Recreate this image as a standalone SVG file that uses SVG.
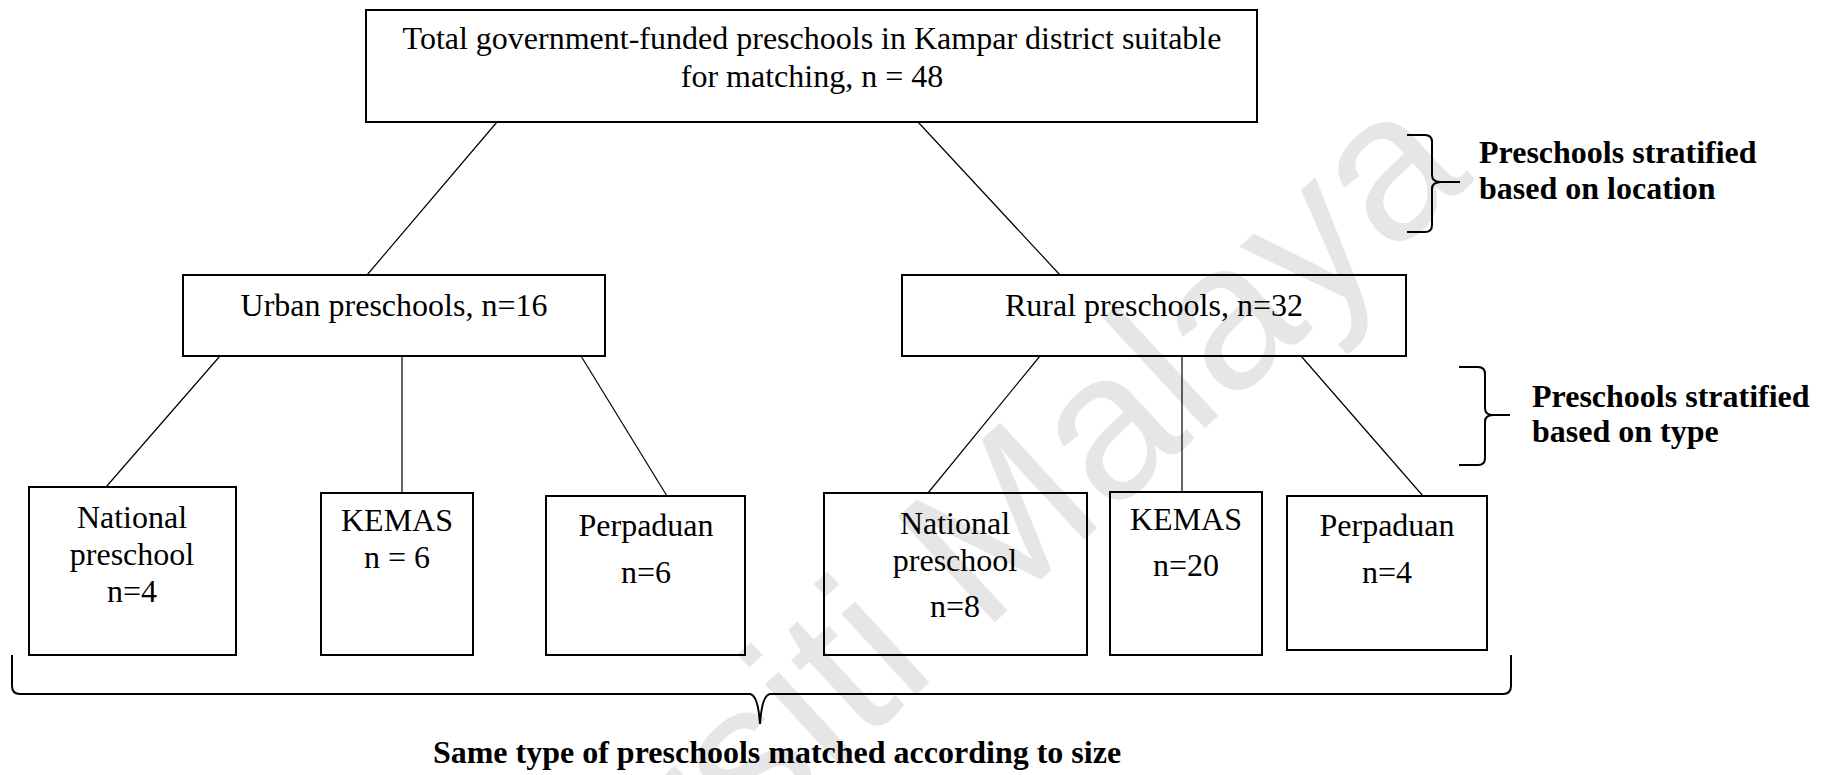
<svg xmlns="http://www.w3.org/2000/svg" width="1825" height="775" viewBox="0 0 1825 775">
  <style>
    .box { fill: none; stroke: #000; stroke-width: 2; }
    .link { stroke: #000; stroke-width: 1.2; fill: none; }
    .brace { stroke: #000; stroke-width: 2; fill: none; }
    .t { font-family: "Liberation Serif", "Times New Roman", serif; font-size: 32px; fill: #000; text-anchor: middle; }
    .b { font-family: "Liberation Serif", "Times New Roman", serif; font-size: 32px; font-weight: bold; fill: #000; }
    .wm { font-family: "Liberation Sans", Arial, sans-serif; font-size: 208px; fill: #e6e6e6; text-anchor: end; }
  </style>
  <rect width="1825" height="775" fill="#fff"/>

  <!-- background watermark -->
  <text class="wm" transform="translate(1475,179) rotate(-42.7)">Universiti Malaya</text>

  <!-- connectors -->
  <g id="connectors">
    <line class="link" x1="497" y1="122" x2="367" y2="275"/>
    <line class="link" x1="918" y1="122" x2="1060" y2="275"/>
    <line class="link" x1="220" y1="356" x2="106" y2="487"/>
    <line class="link" x1="402" y1="356" x2="402" y2="493"/>
    <line class="link" x1="581" y1="356" x2="667" y2="496"/>
    <line class="link" x1="1040" y1="356" x2="928" y2="493"/>
    <line class="link" x1="1182" y1="356" x2="1182" y2="492"/>
    <line class="link" x1="1301" y1="356" x2="1423" y2="496"/>
  </g>

  <g id="root">
    <rect class="box" x="366" y="10" width="891" height="112"/>
    <text class="t" x="812" y="49">Total government-funded preschools in Kampar district suitable</text>
    <text class="t" x="812" y="87">for matching, n = 48</text>
  </g>

  <g id="urban">
    <rect class="box" x="183" y="275" width="422" height="81"/>
    <text class="t" x="394" y="316">Urban preschools, n=16</text>
  </g>

  <g id="rural">
    <rect class="box" x="902" y="275" width="504" height="81"/>
    <text class="t" x="1154" y="316">Rural preschools, n=32</text>
  </g>

  <g id="urban-national">
    <rect class="box" x="29" y="487" width="207" height="168"/>
    <text class="t" x="132" y="528">National</text>
    <text class="t" x="132" y="565">preschool</text>
    <text class="t" x="132" y="602">n=4</text>
  </g>

  <g id="urban-kemas">
    <rect class="box" x="321" y="493" width="152" height="162"/>
    <text class="t" x="397" y="531">KEMAS</text>
    <text class="t" x="397" y="568">n = 6</text>
  </g>

  <g id="urban-perpaduan">
    <rect class="box" x="546" y="496" width="199" height="159"/>
    <text class="t" x="646" y="536">Perpaduan</text>
    <text class="t" x="646" y="583">n=6</text>
  </g>

  <g id="rural-national">
    <rect class="box" x="824" y="493" width="263" height="162"/>
    <text class="t" x="955" y="534">National</text>
    <text class="t" x="955" y="571">preschool</text>
    <text class="t" x="955" y="617">n=8</text>
  </g>

  <g id="rural-kemas">
    <rect class="box" x="1110" y="492" width="152" height="163"/>
    <text class="t" x="1186" y="530">KEMAS</text>
    <text class="t" x="1186" y="576">n=20</text>
  </g>

  <g id="rural-perpaduan">
    <rect class="box" x="1287" y="496" width="200" height="154"/>
    <text class="t" x="1387" y="536">Perpaduan</text>
    <text class="t" x="1387" y="583">n=4</text>
  </g>

  <g id="location-note">
    <path class="brace" d="M1407,135 H1425 Q1432,135 1432,142 V175 Q1432,182 1441,182 H1460 M1441,182 Q1432,182 1432,189 V225 Q1432,232 1425,232 H1407"/>
    <text class="b" x="1479" y="163">Preschools stratified</text>
    <text class="b" x="1479" y="199">based on location</text>
  </g>

  <g id="type-note">
    <path class="brace" d="M1459,367 H1478 Q1485,367 1485,374 V408 Q1485,415 1493,415 H1510 M1493,415 Q1485,415 1485,422 V458 Q1485,465 1478,465 H1459"/>
    <text class="b" x="1532" y="407">Preschools stratified</text>
    <text class="b" x="1532" y="442">based on type</text>
  </g>

  <g id="matching-note">
    <path class="brace" d="M12,655 V686 Q12,694 20,694 H750 Q758,695 760,724 Q762,695 770,694 H1503 Q1511,694 1511,686 V655"/>
    <text class="t" style="font-weight:bold" x="777" y="763">Same type of preschools matched according to size</text>
  </g>
</svg>
